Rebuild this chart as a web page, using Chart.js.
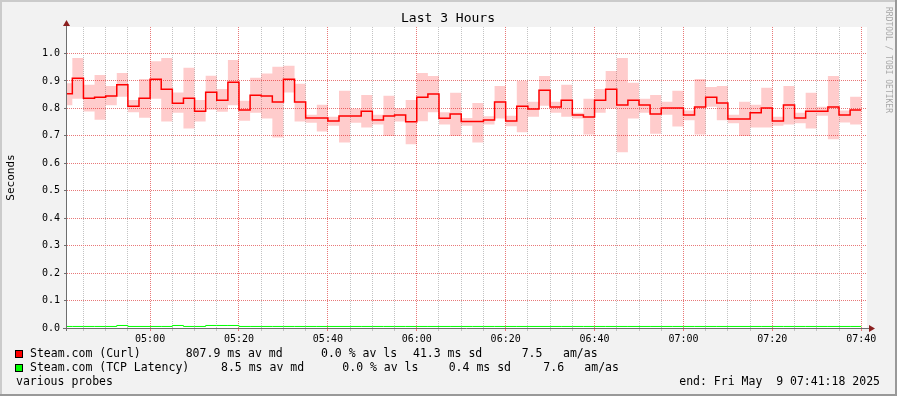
<!DOCTYPE html>
<html>
<head>
<meta charset="utf-8">
<title>Last 3 Hours</title>
<script src="https://cdn.jsdelivr.net/npm/chart.js@4.4.1/dist/chart.umd.min.js"></script>
<style>
  html, body { margin: 0; padding: 0; background: #f2f2f2; }
  canvas { display: block; }
</style>
</head>
<body>
<canvas id="smoke" width="897" height="396"></canvas>
<script>
// one value per 2.5 min step, first step is cut by the window start
const windowStart = '04:41:18';
const windowEnd = '07:41:18';
const firstFullStep = '04:42:30';
const stepMinutes = 2.5;

// Steam.com (Curl), seconds
const curlMedian = [
  0.853, 0.910, 0.837, 0.841, 0.845, 0.886, 0.808, 0.837, 0.906, 0.870,
  0.819, 0.837, 0.790, 0.859, 0.830, 0.895, 0.794, 0.848, 0.845, 0.823,
  0.906, 0.823, 0.765, 0.765, 0.754, 0.772, 0.772, 0.790, 0.758, 0.772,
  0.776, 0.751, 0.841, 0.852, 0.764, 0.780, 0.752, 0.752, 0.758, 0.823,
  0.754, 0.808, 0.798, 0.866, 0.805, 0.830, 0.776, 0.769, 0.830, 0.870,
  0.812, 0.830, 0.812, 0.780, 0.801, 0.801, 0.776, 0.805, 0.841, 0.820,
  0.761, 0.761, 0.784, 0.801, 0.754, 0.812, 0.765, 0.790, 0.790, 0.805,
  0.776, 0.794
];
const curlSmokeHigh = [
  0.892, 0.984, 0.886, 0.922, 0.882, 0.929, 0.831, 0.907, 0.972, 0.984,
  0.858, 0.948, 0.831, 0.919, 0.871, 0.976, 0.828, 0.912, 0.927, 0.952,
  0.955, 0.890, 0.777, 0.813, 0.770, 0.864, 0.799, 0.849, 0.777, 0.846,
  0.800, 0.831, 0.929, 0.918, 0.786, 0.857, 0.765, 0.820, 0.771, 0.882,
  0.773, 0.900, 0.824, 0.918, 0.824, 0.886, 0.784, 0.835, 0.871, 0.936,
  0.984, 0.893, 0.835, 0.849, 0.824, 0.864, 0.792, 0.907, 0.878, 0.882,
  0.777, 0.824, 0.813, 0.875, 0.770, 0.882, 0.784, 0.857, 0.806, 0.918,
  0.792, 0.842
];
const curlSmokeLow = [
  0.811, 0.835, 0.789, 0.759, 0.811, 0.842, 0.786, 0.766, 0.835, 0.752,
  0.784, 0.727, 0.752, 0.795, 0.788, 0.811, 0.755, 0.784, 0.763, 0.694,
  0.858, 0.752, 0.748, 0.716, 0.737, 0.676, 0.748, 0.730, 0.741, 0.699,
  0.752, 0.669, 0.753, 0.786, 0.741, 0.699, 0.737, 0.676, 0.741, 0.763,
  0.735, 0.713, 0.770, 0.810, 0.784, 0.770, 0.763, 0.705, 0.784, 0.800,
  0.640, 0.763, 0.784, 0.708, 0.777, 0.734, 0.757, 0.705, 0.806, 0.757,
  0.746, 0.699, 0.730, 0.730, 0.737, 0.741, 0.746, 0.727, 0.773, 0.688,
  0.749, 0.741
];
// Steam.com (TCP Latency), seconds
const tcpMedian = [
  0.0056, 0.0056, 0.0056, 0.0056, 0.0056, 0.0092, 0.0056, 0.0056, 0.0056, 0.0056,
  0.0092, 0.0056, 0.0056, 0.0092, 0.0092, 0.0092, 0.0056, 0.0056, 0.0056, 0.0056,
  0.0056, 0.0056, 0.0056, 0.0056, 0.0056, 0.0056, 0.0056, 0.0056, 0.0056, 0.0056,
  0.0056, 0.0056, 0.0056, 0.0056, 0.0056, 0.0056, 0.0056, 0.0056, 0.0056, 0.0056,
  0.0056, 0.0056, 0.0056, 0.0056, 0.0056, 0.0056, 0.0056, 0.0056, 0.0056, 0.0056,
  0.0056, 0.0056, 0.0056, 0.0056, 0.0056, 0.0056, 0.0056, 0.0056, 0.0056, 0.0056,
  0.0056, 0.0056, 0.0056, 0.0056, 0.0056, 0.0056, 0.0056, 0.0056, 0.0056, 0.0056,
  0.0056, 0.0056
];

const yTicks = [0.0, 0.1, 0.2, 0.3, 0.4, 0.5, 0.6, 0.7, 0.8, 0.9, 1.0];
const yMax = 1.0965;
const xTickLabels = ['05:00', '05:20', '05:40', '06:00', '06:20', '06:40', '07:00', '07:20', '07:40'];

const legendRows = [
  ['#ff0000', ['Steam.com (Curl)', '807.9 ms av md', '0.0 % av ls', '41.3 ms sd', '7.5', 'am/as']],
  ['#00ff00', ['Steam.com (TCP Latency)', '8.5 ms av md', '0.0 % av ls', '0.4 ms sd', '7.6', 'am/as']]
];
const legendCols = [
  [30, 185.7, 321, 413, 521.7, 563],
  [30, 221, 342.3, 448.7, 543.3, 584.3]
];
const footLeft = 'various probes';
const footRight = 'end: Fri May  9 07:41:18 2025';

const MONO = '"DejaVu Sans Mono", monospace';
const minorGrid = 'rgb(195,195,195)';
const majorGrid = 'rgb(232,120,120)';

function toMin(s) {
  const [h, m, sec] = s.split(':').map(Number);
  return h * 60 + m + (sec || 0) / 60;
}
function fmt(min) {
  const h = Math.floor(min / 60), m = Math.round(min - h * 60);
  return String(h).padStart(2, '0') + ':' + String(m).padStart(2, '0');
}

const stepStarts = [toMin(windowStart)];
for (let i = 1; i < curlMedian.length; i++) {
  stepStarts.push(toMin(firstFullStep) + (i - 1) * stepMinutes);
}
const lastEnd = stepStarts[stepStarts.length - 1] + stepMinutes;

// value i holds from stepStarts[i] until the next start
function toPoints(vals) {
  const pts = vals.map((v, i) => ({ x: stepStarts[i], y: v }));
  pts.push({ x: lastEnd, y: vals[vals.length - 1] });
  return pts;
}

const decor = {
  id: 'decor',
  beforeDraw(chart) {
    const { ctx, width, height, chartArea: a } = chart;
    ctx.save();
    ctx.fillStyle = '#f2f2f2';
    ctx.fillRect(0, 0, width, height);
    ctx.fillStyle = '#cbcbcb';
    ctx.fillRect(0, 0, width, 2);
    ctx.fillRect(0, 0, 2, height);
    ctx.fillStyle = '#999999';
    ctx.fillRect(0, height - 2, width, 2);
    ctx.fillRect(width - 2, 0, 2, height);
    ctx.fillStyle = '#ffffff';
    ctx.fillRect(a.left, a.top, a.right - a.left, a.bottom - a.top);
    ctx.restore();
  },
  afterDraw(chart) {
    const { ctx, chartArea: a } = chart;
    ctx.save();
    // axes
    ctx.strokeStyle = '#6e6e6e';
    ctx.lineWidth = 1;
    ctx.beginPath();
    ctx.moveTo(a.left - 4, a.bottom + 0.5);
    ctx.lineTo(a.right + 3, a.bottom + 0.5);
    ctx.moveTo(a.left - 0.5, a.bottom + 3);
    ctx.lineTo(a.left - 0.5, a.top - 5);
    ctx.stroke();
    ctx.fillStyle = '#8b2020';
    ctx.beginPath();
    ctx.moveTo(a.right + 2, a.bottom - 3);
    ctx.lineTo(a.right + 8, a.bottom + 0.5);
    ctx.lineTo(a.right + 2, a.bottom + 4);
    ctx.closePath();
    ctx.fill();
    ctx.beginPath();
    ctx.moveTo(a.left - 4, a.top - 1);
    ctx.lineTo(a.left - 0.5, a.top - 7);
    ctx.lineTo(a.left + 3, a.top - 1);
    ctx.closePath();
    ctx.fill();

    // title
    ctx.fillStyle = '#000';
    ctx.textBaseline = 'middle';
    ctx.textAlign = 'center';
    ctx.font = '13px ' + MONO;
    ctx.fillText('Last 3 Hours', 448, 19);

    // unit label
    ctx.save();
    ctx.translate(11, (a.top + a.bottom) / 2);
    ctx.rotate(-Math.PI / 2);
    ctx.font = '11px ' + MONO;
    ctx.fillText('Seconds', 0, 0);
    ctx.restore();

    // watermark
    ctx.save();
    ctx.translate(888, 60);
    ctx.rotate(Math.PI / 2);
    ctx.fillStyle = '#a8a8a8';
    ctx.font = '8px ' + MONO;
    ctx.fillText('RRDTOOL / TOBI OETIKER', 0, 0);
    ctx.restore();

    // legend
    ctx.textAlign = 'left';
    ctx.font = '11.5px ' + MONO;
    legendRows.forEach(([color, parts], r) => {
      const y = 354 + r * 14;
      ctx.fillStyle = color;
      ctx.fillRect(15, y - 4, 8, 8);
      ctx.strokeStyle = '#000';
      ctx.strokeRect(15.5, y - 3.5, 7, 7);
      ctx.fillStyle = '#000';
      parts.forEach((p, i) => ctx.fillText(p, legendCols[r][i], y));
    });
    ctx.fillText(footLeft, 16, 382);
    ctx.textAlign = 'right';
    ctx.fillText(footRight, 880, 382);
    ctx.restore();
  }
};

new Chart(document.getElementById('smoke'), {
  type: 'line',
  data: {
    datasets: [
      {
        label: 'Steam.com (Curl)',
        data: toPoints(curlMedian),
        borderColor: '#ff0000',
        borderWidth: 1.5,
        stepped: 'before',
        pointRadius: 0,
        fill: false,
        order: 0
      },
      {
        label: 'smoke high',
        data: toPoints(curlSmokeHigh),
        borderColor: 'rgba(0,0,0,0)',
        backgroundColor: 'rgba(255,0,0,0.2)',
        stepped: 'before',
        pointRadius: 0,
        fill: '+1',
        order: 3
      },
      {
        label: 'smoke low',
        data: toPoints(curlSmokeLow),
        borderColor: 'rgba(0,0,0,0)',
        stepped: 'before',
        pointRadius: 0,
        fill: false,
        order: 3
      },
      {
        label: 'Steam.com (TCP Latency)',
        data: toPoints(tcpMedian),
        borderColor: '#00ff00',
        borderWidth: 1,
        stepped: 'before',
        pointRadius: 0,
        fill: false,
        order: 1
      }
    ]
  },
  options: {
    responsive: false,
    animation: false,
    devicePixelRatio: 1,
    events: [],
    layout: { padding: { top: 27, right: 30, left: 0, bottom: 0 } },
    plugins: {
      legend: { display: false },
      title: { display: false },
      tooltip: { enabled: false }
    },
    scales: {
      x: {
        type: 'linear',
        min: toMin(windowStart),
        max: toMin(windowEnd),
        afterFit: s => { s.height = 68; },
        afterBuildTicks: axis => {
          const ticks = [];
          for (let t = Math.ceil(axis.min / 5) * 5; t <= axis.max; t += 5) ticks.push({ value: t });
          axis.ticks = ticks;
        },
        ticks: {
          autoSkip: false,
          maxRotation: 0,
          padding: 2,
          color: '#000',
          font: { family: MONO, size: 10 },
          callback: v => {
            const s = fmt(v);
            return xTickLabels.includes(s) ? s : '';
          }
        },
        grid: {
          color: c => (c.tick && Math.round(c.tick.value) % 20 === 0 ? majorGrid : minorGrid),
          tickColor: c => (c.tick && Math.round(c.tick.value) % 20 === 0 ? majorGrid : minorGrid),
          tickLength: 3,
          lineWidth: 1
        },
        border: { display: false, dash: [1, 1] }
      },
      y: {
        min: 0,
        max: yMax,
        afterFit: s => { s.width = 67; },
        afterBuildTicks: axis => {
          axis.ticks = yTicks.map(v => ({ value: v }));
        },
        ticks: {
          padding: 4,
          color: '#000',
          font: { family: MONO, size: 10 },
          callback: v => v.toFixed(1)
        },
        grid: {
          color: majorGrid,
          tickColor: '#6e6e6e',
          tickLength: 3,
          lineWidth: 1
        },
        border: { display: false, dash: [1, 1] }
      }
    }
  },
  plugins: [decor]
});
</script>
</body>
</html>
